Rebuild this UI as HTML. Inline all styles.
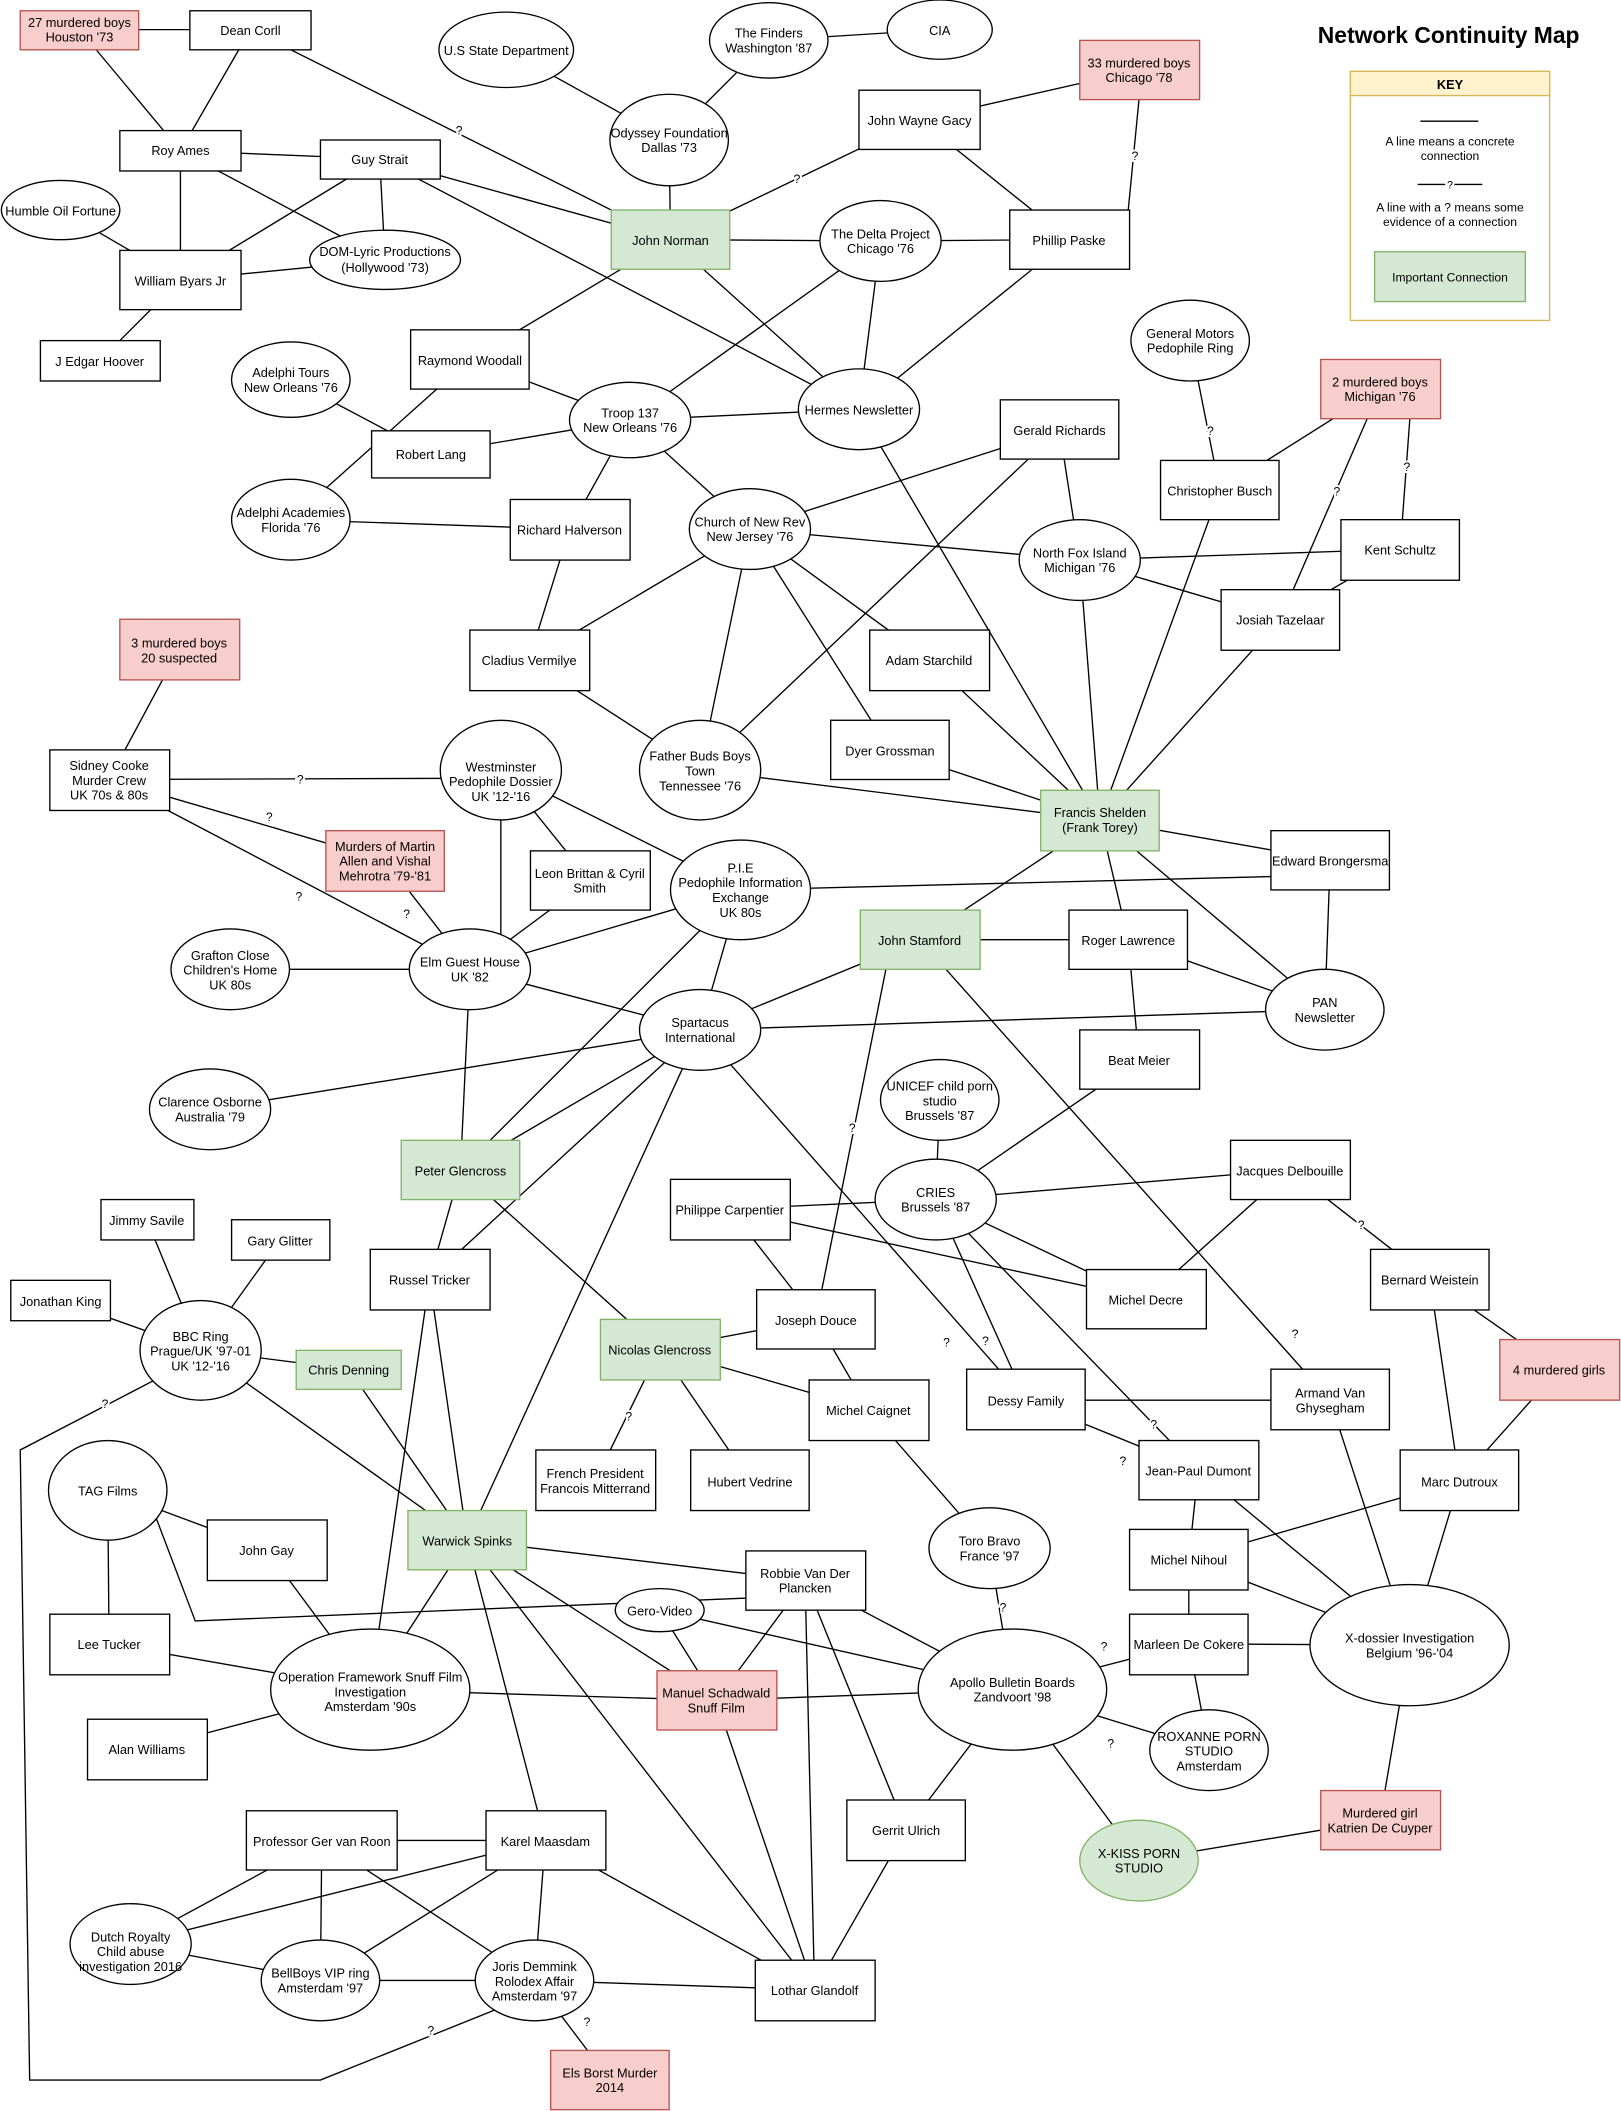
<!DOCTYPE html>
<html><head><meta charset="utf-8"><style>
html,body{margin:0;padding:0;background:#fff}
svg{display:block}
text{font-family:"Liberation Sans",Arial,sans-serif;font-size:9.5px;fill:#000}
.e line,.e polyline{stroke:#000;stroke-width:1;fill:none}
.n rect,.n ellipse{fill:#fff;stroke:#000;stroke-width:1}
.n .g{fill:#d5e8d4;stroke:#82b366}
.n .p{fill:#f8cecc;stroke:#b85450}
.q{font-size:9px;stroke:#fff;stroke-width:3;paint-order:stroke;text-anchor:middle}
.t{text-anchor:middle}
</style></head><body>
<svg width="1621" height="2111" viewBox="0 0 1204 1568" xmlns="http://www.w3.org/2000/svg">
<g class="e">
<line x1="59" y1="22" x2="186" y2="22"/><line x1="59" y1="22" x2="134" y2="112"/><line x1="186" y1="22" x2="134" y2="112"/>
<line x1="186" y1="22" x2="498" y2="178"/><line x1="134" y1="112" x2="282" y2="118"/><line x1="134" y1="112" x2="134" y2="208"/>
<line x1="134" y1="112" x2="286" y2="193"/><line x1="282" y1="118" x2="134" y2="208"/><line x1="282" y1="118" x2="286" y2="193"/>
<line x1="282" y1="118" x2="498" y2="178"/><line x1="282" y1="118" x2="638" y2="304"/><line x1="45" y1="156" x2="134" y2="208"/>
<line x1="134" y1="208" x2="286" y2="193"/><line x1="134" y1="208" x2="74" y2="268"/><line x1="376" y1="37" x2="497" y2="104"/>
<line x1="571" y1="30" x2="497" y2="104"/><line x1="571" y1="30" x2="698" y2="22"/><line x1="497" y1="104" x2="498" y2="178"/>
<line x1="498" y1="178" x2="683" y2="89"/><line x1="498" y1="178" x2="654" y2="179"/><line x1="498" y1="178" x2="349" y2="267"/>
<line x1="498" y1="178" x2="638" y2="304"/><line x1="683" y1="89" x2="846" y2="52"/><line x1="683" y1="89" x2="794" y2="178"/>
<line x1="846" y1="74" x2="838" y2="156"/><line x1="654" y1="179" x2="794" y2="178"/><line x1="654" y1="179" x2="638" y2="304"/>
<line x1="654" y1="179" x2="468" y2="312"/><line x1="794" y1="178" x2="638" y2="304"/><line x1="349" y1="267" x2="216" y2="386"/>
<line x1="349" y1="267" x2="468" y2="312"/><line x1="216" y1="282" x2="320" y2="337"/><line x1="468" y1="312" x2="320" y2="337"/>
<line x1="468" y1="312" x2="638" y2="304"/><line x1="468" y1="312" x2="423" y2="393"/><line x1="468" y1="312" x2="557" y2="393"/>
<line x1="216" y1="386" x2="423" y2="393"/><line x1="638" y1="304" x2="817" y2="609"/><line x1="884" y1="253" x2="906" y2="364"/>
<line x1="1025" y1="289" x2="906" y2="364"/><line x1="1025" y1="289" x2="951" y2="460"/><line x1="1048" y1="300" x2="1040" y2="408"/>
<line x1="787" y1="319" x2="802" y2="416"/><line x1="787" y1="319" x2="557" y2="393"/><line x1="787" y1="319" x2="520" y2="572"/>
<line x1="906" y1="364" x2="817" y2="609"/><line x1="557" y1="393" x2="802" y2="416"/><line x1="557" y1="393" x2="393" y2="490"/>
<line x1="557" y1="393" x2="520" y2="572"/><line x1="557" y1="393" x2="690" y2="490"/><line x1="557" y1="393" x2="661" y2="557"/>
<line x1="802" y1="416" x2="1040" y2="408"/><line x1="802" y1="416" x2="951" y2="460"/><line x1="802" y1="416" x2="817" y2="609"/>
<line x1="1040" y1="408" x2="951" y2="460"/><line x1="951" y1="460" x2="817" y2="609"/><line x1="423" y1="393" x2="393" y2="490"/>
<line x1="393" y1="490" x2="520" y2="572"/><line x1="690" y1="490" x2="817" y2="609"/><line x1="661" y1="557" x2="817" y2="609"/>
<line x1="520" y1="572" x2="817" y2="609"/><line x1="133" y1="482" x2="81" y2="579"/><line x1="81" y1="579" x2="372" y2="578"/>
<line x1="81" y1="579" x2="286" y2="639"/><line x1="81" y1="579" x2="349" y2="720"/><line x1="372" y1="572" x2="372" y2="720"/>
<line x1="372" y1="572" x2="438" y2="654"/><line x1="372" y1="572" x2="550" y2="661"/><line x1="286" y1="639" x2="349" y2="720"/>
<line x1="438" y1="654" x2="349" y2="720"/><line x1="550" y1="661" x2="349" y2="720"/><line x1="550" y1="661" x2="988" y2="650"/>
<line x1="550" y1="661" x2="520" y2="765"/><line x1="550" y1="661" x2="342" y2="869"/><line x1="817" y1="609" x2="988" y2="639"/>
<line x1="817" y1="609" x2="683" y2="698"/><line x1="817" y1="609" x2="838" y2="698"/><line x1="817" y1="609" x2="984" y2="750"/>
<line x1="988" y1="639" x2="984" y2="750"/><line x1="171" y1="720" x2="349" y2="720"/><line x1="349" y1="720" x2="520" y2="765"/>
<line x1="349" y1="720" x2="342" y2="869"/><line x1="683" y1="698" x2="838" y2="698"/><line x1="683" y1="698" x2="520" y2="765"/>
<line x1="660" y1="710" x2="606" y2="980"/><line x1="683" y1="698" x2="988" y2="1040"/><line x1="838" y1="698" x2="984" y2="750"/>
<line x1="838" y1="698" x2="846" y2="787"/><line x1="520" y1="765" x2="984" y2="750"/><line x1="520" y1="765" x2="156" y2="824"/>
<line x1="520" y1="765" x2="342" y2="869"/><line x1="520" y1="765" x2="319" y2="950"/><line x1="520" y1="765" x2="347" y2="1144"/>
<line x1="520" y1="765" x2="762" y2="1040"/><line x1="846" y1="787" x2="695" y2="891"/><line x1="698" y1="817" x2="695" y2="891"/>
<line x1="958" y1="869" x2="695" y2="891"/><line x1="958" y1="869" x2="851" y2="965"/><line x1="958" y1="869" x2="1062" y2="950"/>
<line x1="542" y1="898" x2="695" y2="891"/><line x1="542" y1="898" x2="851" y2="965"/><line x1="542" y1="898" x2="606" y2="980"/>
<line x1="695" y1="891" x2="851" y2="965"/><line x1="695" y1="891" x2="762" y2="1040"/><line x1="695" y1="891" x2="890" y2="1092"/>
<line x1="342" y1="869" x2="319" y2="950"/><line x1="342" y1="869" x2="490" y2="1002"/><line x1="109" y1="906" x2="149" y2="1003"/>
<line x1="208" y1="921" x2="149" y2="1003"/><line x1="45" y1="966" x2="149" y2="1003"/><line x1="149" y1="1003" x2="259" y2="1017"/>
<line x1="149" y1="1003" x2="347" y2="1144"/><line x1="319" y1="950" x2="347" y2="1144"/><line x1="319" y1="950" x2="275" y2="1255"/>
<line x1="1062" y1="950" x2="1158" y2="1017"/><line x1="1062" y1="950" x2="1084" y2="1100"/><line x1="606" y1="980" x2="490" y2="1002"/>
<line x1="606" y1="980" x2="645" y2="1047"/><line x1="259" y1="1017" x2="347" y2="1144"/><line x1="490" y1="1002" x2="442" y2="1100"/>
<line x1="490" y1="1002" x2="557" y2="1100"/><line x1="490" y1="1002" x2="645" y2="1047"/><line x1="1158" y1="1017" x2="1084" y2="1100"/>
<line x1="762" y1="1040" x2="988" y2="1040"/><line x1="762" y1="1040" x2="890" y2="1092"/><line x1="988" y1="1040" x2="1047" y2="1222"/>
<line x1="645" y1="1047" x2="735" y2="1150"/><line x1="890" y1="1092" x2="883" y2="1158"/><line x1="890" y1="1092" x2="1047" y2="1222"/>
<line x1="1084" y1="1100" x2="883" y2="1158"/><line x1="1084" y1="1100" x2="1047" y2="1222"/><line x1="80" y1="1107" x2="198" y2="1151"/>
<line x1="80" y1="1107" x2="81" y2="1221"/><polyline points="115,1125 145,1204 555,1187"/><line x1="198" y1="1151" x2="275" y2="1255"/>
<line x1="347" y1="1144" x2="275" y2="1255"/><line x1="347" y1="1144" x2="598" y2="1174"/><line x1="347" y1="1144" x2="532" y2="1263"/>
<line x1="347" y1="1144" x2="405" y2="1367"/><line x1="347" y1="1144" x2="605" y2="1478"/><line x1="735" y1="1150" x2="752" y2="1255"/>
<line x1="883" y1="1158" x2="883" y2="1221"/><line x1="883" y1="1158" x2="1047" y2="1222"/><line x1="598" y1="1174" x2="532" y2="1263"/>
<line x1="598" y1="1174" x2="752" y2="1255"/><line x1="598" y1="1174" x2="605" y2="1478"/><line x1="598" y1="1174" x2="673" y2="1359"/>
<line x1="490" y1="1196" x2="532" y2="1263"/><line x1="490" y1="1196" x2="752" y2="1255"/><line x1="81" y1="1221" x2="275" y2="1255"/>
<line x1="275" y1="1255" x2="532" y2="1263"/><line x1="883" y1="1221" x2="752" y2="1255"/><line x1="883" y1="1221" x2="1047" y2="1222"/>
<line x1="883" y1="1221" x2="898" y2="1300"/><line x1="1047" y1="1222" x2="1025" y2="1352"/><line x1="532" y1="1263" x2="752" y2="1255"/>
<line x1="532" y1="1263" x2="605" y2="1478"/><line x1="752" y1="1255" x2="673" y2="1359"/><line x1="752" y1="1255" x2="846" y2="1382"/>
<line x1="752" y1="1255" x2="898" y2="1300"/><line x1="109" y1="1299" x2="275" y2="1255"/><line x1="673" y1="1359" x2="605" y2="1478"/>
<line x1="239" y1="1367" x2="405" y2="1367"/><line x1="239" y1="1367" x2="97" y2="1444"/><line x1="239" y1="1367" x2="238" y2="1471"/>
<line x1="239" y1="1367" x2="397" y2="1471"/><line x1="405" y1="1367" x2="97" y2="1444"/><line x1="405" y1="1367" x2="238" y2="1471"/>
<line x1="405" y1="1367" x2="397" y2="1471"/><line x1="405" y1="1367" x2="605" y2="1478"/><line x1="846" y1="1382" x2="1025" y2="1352"/>
<line x1="97" y1="1444" x2="238" y2="1471"/><line x1="238" y1="1471" x2="397" y2="1471"/><line x1="397" y1="1471" x2="605" y2="1478"/>
<line x1="397" y1="1471" x2="453" y2="1545"/>
<polyline points="115,1025 15,1077 22,1545 238,1545 370,1492"/>
</g>
<g>
<text class="q" x="341" y="100">?</text><text class="q" x="592" y="136">?</text><text class="q" x="843" y="119">?</text>
<text class="q" x="899" y="323">?</text><text class="q" x="993" y="368">?</text><text class="q" x="1045" y="350">?</text>
<text class="q" x="223" y="582">?</text><text class="q" x="200" y="610">?</text><text class="q" x="222" y="669">?</text>
<text class="q" x="302" y="682">?</text><text class="q" x="633" y="841">?</text><text class="q" x="962" y="994">?</text>
<text class="q" x="703" y="1000">?</text><text class="q" x="732" y="999">?</text><text class="q" x="857" y="1061">?</text>
<text class="q" x="1011" y="913">?</text><text class="q" x="78" y="1046">?</text><text class="q" x="467" y="1055">?</text>
<text class="q" x="834" y="1088">?</text><text class="q" x="745" y="1197">?</text><text class="q" x="820" y="1226">?</text>
<text class="q" x="825" y="1298">?</text><text class="q" x="320" y="1511">?</text><text class="q" x="436" y="1505">?</text>
</g>
<g class="n">
<rect class="p" x="15" y="8" width="88" height="29"/><text class="t" x="59" y="20">27 murdered boys</text><text class="t" x="59" y="31">Houston '73</text>
<rect x="141" y="8" width="90" height="29"/><text class="t" x="186" y="26">Dean Corll</text>
<rect x="89" y="97" width="90" height="30"/><text class="t" x="134" y="115">Roy Ames</text>
<rect x="238" y="104" width="89" height="29"/><text class="t" x="282" y="122">Guy Strait</text>
<ellipse cx="45" cy="156" rx="44" ry="22"/><text class="t" x="45" y="160">Humble Oil Fortune</text>
<rect x="89" y="186" width="90" height="44"/><text class="t" x="134" y="212">William Byars Jr</text>
<ellipse cx="286" cy="193" rx="56" ry="22"/><text class="t" x="286" y="190">DOM-Lyric Productions</text><text class="t" x="286" y="202">(Hollywood '73)</text>
<rect x="30" y="253" width="89" height="30"/><text class="t" x="74" y="272">J Edgar Hoover</text>
<ellipse cx="376" cy="37" rx="50" ry="28"/><text class="t" x="376" y="41">U.S State Department</text>
<ellipse cx="571" cy="30" rx="44" ry="28"/><text class="t" x="571" y="28">The Finders</text><text class="t" x="571" y="39">Washington '87</text>
<ellipse cx="698" cy="22" rx="39" ry="22"/><text class="t" x="698" y="26">CIA</text>
<ellipse cx="497" cy="104" rx="44" ry="34"/><text class="t" x="497" y="102">Odyssey Foundation</text><text class="t" x="497" y="113">Dallas '73</text>
<rect class="g" x="454" y="156" width="88" height="44"/><text class="t" x="498" y="182">John Norman</text>
<rect x="638" y="67" width="90" height="44"/><text class="t" x="683" y="93">John Wayne Gacy</text>
<rect class="p" x="802" y="30" width="89" height="44"/><text class="t" x="846" y="50">33 murdered boys</text><text class="t" x="846" y="61">Chicago '78</text>
<ellipse cx="654" cy="179" rx="45" ry="30"/><text class="t" x="654" y="177">The Delta Project</text><text class="t" x="654" y="188">Chicago '76</text>
<rect x="750" y="156" width="89" height="44"/><text class="t" x="794" y="182">Phillip Paske</text>
<rect x="305" y="245" width="88" height="44"/><text class="t" x="349" y="271">Raymond Woodall</text>
<ellipse cx="216" cy="282" rx="44" ry="28"/><text class="t" x="216" y="280">Adelphi Tours</text><text class="t" x="216" y="291">New Orleans '76</text>
<ellipse cx="468" cy="312" rx="45" ry="28"/><text class="t" x="468" y="310">Troop 137</text><text class="t" x="468" y="321">New Orleans '76</text>
<ellipse cx="638" cy="304" rx="45" ry="30"/><text class="t" x="638" y="308">Hermes Newsletter</text>
<rect x="276" y="320" width="88" height="35"/><text class="t" x="320" y="341">Robert Lang</text>
<ellipse cx="884" cy="253" rx="44" ry="30"/><text class="t" x="884" y="251">General Motors</text><text class="t" x="884" y="262">Pedophile Ring</text>
<rect class="p" x="981" y="267" width="89" height="44"/><text class="t" x="1025" y="287">2 murdered boys</text><text class="t" x="1025" y="298">Michigan '76</text>
<rect x="743" y="297" width="88" height="44"/><text class="t" x="787" y="323">Gerald Richards</text>
<rect x="862" y="342" width="88" height="44"/><text class="t" x="906" y="368">Christopher Busch</text>
<ellipse cx="216" cy="386" rx="44" ry="30"/><text class="t" x="216" y="384">Adelphi Academies</text><text class="t" x="216" y="395">Florida '76</text>
<rect x="379" y="371" width="89" height="45"/><text class="t" x="423" y="397">Richard Halverson</text>
<ellipse cx="557" cy="393" rx="45" ry="30"/><text class="t" x="557" y="391">Church of New Rev</text><text class="t" x="557" y="402">New Jersey '76</text>
<ellipse cx="802" cy="416" rx="45" ry="30"/><text class="t" x="802" y="414">North Fox Island</text><text class="t" x="802" y="425">Michigan '76</text>
<rect x="996" y="386" width="88" height="45"/><text class="t" x="1040" y="412">Kent Schultz</text>
<rect x="907" y="438" width="88" height="45"/><text class="t" x="951" y="464">Josiah Tazelaar</text>
<rect x="349" y="468" width="89" height="45"/><text class="t" x="393" y="494">Cladius Vermilye</text>
<rect x="646" y="468" width="89" height="45"/><text class="t" x="690" y="494">Adam Starchild</text>
<rect class="p" x="89" y="460" width="89" height="45"/><text class="t" x="133" y="481">3 murdered boys</text><text class="t" x="133" y="492">20 suspected</text>
<rect x="37" y="557" width="89" height="45"/><text class="t" x="81" y="572">Sidney Cooke</text><text class="t" x="81" y="583">Murder Crew</text><text class="t" x="81" y="594">UK 70s &amp; 80s</text>
<ellipse cx="372" cy="572" rx="45" ry="37"/><text class="t" x="372" y="573">Westminster</text><text class="t" x="372" y="584">Pedophile Dossier</text><text class="t" x="372" y="595">UK '12-'16</text>
<ellipse cx="520" cy="572" rx="45" ry="37"/><text class="t" x="520" y="565">Father Buds Boys</text><text class="t" x="520" y="576">Town</text><text class="t" x="520" y="587">Tennessee '76</text>
<rect x="617" y="535" width="88" height="44"/><text class="t" x="661" y="561">Dyer Grossman</text>
<rect class="g" x="773" y="587" width="88" height="45"/><text class="t" x="817" y="607">Francis Shelden</text><text class="t" x="817" y="618">(Frank Torey)</text>
<rect class="p" x="242" y="617" width="88" height="45"/><text class="t" x="286" y="632">Murders of Martin</text><text class="t" x="286" y="643">Allen and Vishal</text><text class="t" x="286" y="654">Mehrotra '79-'81</text>
<rect x="394" y="632" width="89" height="44"/><text class="t" x="438" y="652">Leon Brittan &amp; Cyril</text><text class="t" x="438" y="663">Smith</text>
<ellipse cx="550" cy="661" rx="52" ry="37"/><text class="t" x="550" y="648">P.I.E</text><text class="t" x="550" y="659">Pedophile Information</text><text class="t" x="550" y="670">Exchange</text><text class="t" x="550" y="681">UK 80s</text>
<rect x="944" y="617" width="88" height="44"/><text class="t" x="988" y="643">Edward Brongersma</text>
<ellipse cx="171" cy="720" rx="44" ry="30"/><text class="t" x="171" y="713">Grafton Close</text><text class="t" x="171" y="724">Children's Home</text><text class="t" x="171" y="735">UK 80s</text>
<ellipse cx="349" cy="720" rx="45" ry="30"/><text class="t" x="349" y="718">Elm Guest House</text><text class="t" x="349" y="729">UK '82</text>
<rect class="g" x="639" y="676" width="89" height="44"/><text class="t" x="683" y="702">John Stamford</text>
<rect x="794" y="676" width="88" height="44"/><text class="t" x="838" y="702">Roger Lawrence</text>
<ellipse cx="984" cy="750" rx="44" ry="30"/><text class="t" x="984" y="748">PAN</text><text class="t" x="984" y="759">Newsletter</text>
<ellipse cx="520" cy="765" rx="45" ry="30"/><text class="t" x="520" y="763">Spartacus</text><text class="t" x="520" y="774">International</text>
<ellipse cx="156" cy="824" rx="45" ry="30"/><text class="t" x="156" y="822">Clarence Osborne</text><text class="t" x="156" y="833">Australia '79</text>
<rect x="802" y="765" width="89" height="44"/><text class="t" x="846" y="791">Beat Meier</text>
<ellipse cx="698" cy="817" rx="44" ry="30"/><text class="t" x="698" y="810">UNICEF child porn</text><text class="t" x="698" y="821">studio</text><text class="t" x="698" y="832">Brussels '87</text>
<rect class="g" x="298" y="847" width="88" height="44"/><text class="t" x="342" y="873">Peter Glencross</text>
<rect x="914" y="847" width="89" height="44"/><text class="t" x="958" y="873">Jacques Delbouille</text>
<rect x="498" y="876" width="89" height="45"/><text class="t" x="542" y="902">Philippe Carpentier</text>
<ellipse cx="695" cy="891" rx="45" ry="30"/><text class="t" x="695" y="889">CRIES</text><text class="t" x="695" y="900">Brussels '87</text>
<rect x="75" y="891" width="69" height="30"/><text class="t" x="109" y="910">Jimmy Savile</text>
<rect x="172" y="906" width="73" height="30"/><text class="t" x="208" y="925">Gary Glitter</text>
<rect x="8" y="951" width="74" height="30"/><text class="t" x="45" y="970">Jonathan King</text>
<ellipse cx="149" cy="1003" rx="45" ry="37"/><text class="t" x="149" y="996">BBC Ring</text><text class="t" x="149" y="1007">Prague/UK '97-01</text><text class="t" x="149" y="1018">UK '12-'16</text>
<rect x="275" y="928" width="89" height="45"/><text class="t" x="319" y="954">Russel Tricker</text>
<rect x="1018" y="928" width="88" height="45"/><text class="t" x="1062" y="954">Bernard Weistein</text>
<rect x="562" y="958" width="88" height="44"/><text class="t" x="606" y="984">Joseph Douce</text>
<rect x="807" y="943" width="89" height="44"/><text class="t" x="851" y="969">Michel Decre</text>
<rect class="g" x="220" y="1003" width="78" height="29"/><text class="t" x="259" y="1021">Chris Denning</text>
<rect class="g" x="446" y="980" width="89" height="45"/><text class="t" x="490" y="1006">Nicolas Glencross</text>
<rect class="p" x="1114" y="995" width="89" height="45"/><text class="t" x="1158" y="1021">4 murdered girls</text>
<rect x="718" y="1017" width="88" height="45"/><text class="t" x="762" y="1044">Dessy Family</text>
<rect x="944" y="1017" width="88" height="45"/><text class="t" x="988" y="1038">Armand Van</text><text class="t" x="988" y="1049">Ghysegham</text>
<rect x="601" y="1025" width="89" height="45"/><text class="t" x="645" y="1051">Michel Caignet</text>
<rect x="398" y="1077" width="89" height="45"/><text class="t" x="442" y="1098">French President</text><text class="t" x="442" y="1109">Francois Mitterrand</text>
<rect x="513" y="1077" width="88" height="45"/><text class="t" x="557" y="1104">Hubert Vedrine</text>
<rect x="846" y="1070" width="89" height="44"/><text class="t" x="890" y="1096">Jean-Paul Dumont</text>
<rect x="1040" y="1077" width="88" height="45"/><text class="t" x="1084" y="1104">Marc Dutroux</text>
<ellipse cx="80" cy="1107" rx="44" ry="37"/><text class="t" x="80" y="1111">TAG Films</text>
<rect x="154" y="1129" width="89" height="45"/><text class="t" x="198" y="1155">John Gay</text>
<rect class="g" x="303" y="1122" width="88" height="44"/><text class="t" x="347" y="1148">Warwick Spinks</text>
<ellipse cx="735" cy="1150" rx="45" ry="30"/><text class="t" x="735" y="1148">Toro Bravo</text><text class="t" x="735" y="1159">France '97</text>
<rect x="839" y="1136" width="88" height="45"/><text class="t" x="883" y="1162">Michel Nihoul</text>
<rect x="554" y="1152" width="89" height="44"/><text class="t" x="598" y="1172">Robbie Van Der</text><text class="t" x="598" y="1183">Plancken</text>
<ellipse cx="490" cy="1196" rx="33" ry="16"/><text class="t" x="490" y="1200">Gero-Video</text>
<rect x="37" y="1199" width="89" height="45"/><text class="t" x="81" y="1225">Lee Tucker</text>
<ellipse cx="275" cy="1255" rx="74" ry="45"/><text class="t" x="275" y="1249">Operation Framework Snuff Film</text><text class="t" x="275" y="1260">Investigation</text><text class="t" x="275" y="1271">Amsterdam '90s</text>
<rect x="839" y="1199" width="88" height="45"/><text class="t" x="883" y="1225">Marleen De Cokere</text>
<ellipse cx="1047" cy="1222" rx="74" ry="45"/><text class="t" x="1047" y="1220">X-dossier Investigation</text><text class="t" x="1047" y="1231">Belgium '96-'04</text>
<rect class="p" x="488" y="1241" width="89" height="44"/><text class="t" x="532" y="1261">Manuel Schadwald</text><text class="t" x="532" y="1272">Snuff Film</text>
<ellipse cx="752" cy="1255" rx="70" ry="45"/><text class="t" x="752" y="1253">Apollo Bulletin Boards</text><text class="t" x="752" y="1264">Zandvoort '98</text>
<rect x="65" y="1277" width="89" height="45"/><text class="t" x="109" y="1303">Alan Williams</text>
<ellipse cx="898" cy="1300" rx="44" ry="30"/><text class="t" x="898" y="1293">ROXANNE PORN</text><text class="t" x="898" y="1304">STUDIO</text><text class="t" x="898" y="1315">Amsterdam</text>
<rect x="629" y="1337" width="88" height="45"/><text class="t" x="673" y="1363">Gerrit Ulrich</text>
<rect x="183" y="1345" width="112" height="44"/><text class="t" x="239" y="1371">Professor Ger van Roon</text>
<rect x="361" y="1345" width="89" height="44"/><text class="t" x="405" y="1371">Karel Maasdam</text>
<ellipse class="g" cx="846" cy="1382" rx="44" ry="30"/><text class="t" x="846" y="1380">X-KISS PORN</text><text class="t" x="846" y="1391">STUDIO</text>
<rect class="p" x="981" y="1330" width="89" height="44"/><text class="t" x="1025" y="1350">Murdered girl</text><text class="t" x="1025" y="1361">Katrien De Cuyper</text>
<ellipse cx="97" cy="1444" rx="45" ry="30"/><text class="t" x="97" y="1442">Dutch Royalty</text><text class="t" x="97" y="1453">Child abuse</text><text class="t" x="97" y="1464">investigation 2016</text>
<ellipse cx="238" cy="1471" rx="44" ry="30"/><text class="t" x="238" y="1469">BellBoys VIP ring</text><text class="t" x="238" y="1480">Amsterdam '97</text>
<ellipse cx="397" cy="1471" rx="44" ry="30"/><text class="t" x="397" y="1464">Joris Demmink</text><text class="t" x="397" y="1475">Rolodex Affair</text><text class="t" x="397" y="1486">Amsterdam '97</text>
<rect x="561" y="1456" width="89" height="45"/><text class="t" x="605" y="1482">Lothar Glandolf</text>
<rect class="p" x="409" y="1523" width="88" height="44"/><text class="t" x="453" y="1543">Els Borst Murder</text><text class="t" x="453" y="1554">2014</text>
</g>
<text x="1076" y="32" style="font-size:17px;font-weight:bold" text-anchor="middle">Network Continuity Map</text>
<rect x="1003" y="53" width="148" height="185" fill="#fff" stroke="#d6b656"/>
<rect x="1003" y="53" width="148" height="18" fill="#fff2cc" stroke="#d6b656"/>
<text class="t" x="1077" y="66" style="font-weight:bold">KEY</text>
<line x1="1055" y1="90" x2="1098" y2="90" stroke="#000"/>
<text class="t" x="1077" y="108" style="font-size:9px">A line means a concrete</text><text class="t" x="1077" y="119" style="font-size:9px">connection</text>
<line x1="1053" y1="137" x2="1101" y2="137" stroke="#000"/><text class="q" x="1077" y="140" style="font-size:8px">?</text>
<text class="t" x="1077" y="157" style="font-size:9px">A line with a ? means some</text><text class="t" x="1077" y="168" style="font-size:9px">evidence of a connection</text>
<rect x="1021" y="187" width="112" height="37" fill="#d5e8d4" stroke="#82b366"/><text class="t" x="1077" y="209" style="font-size:9px">Important Connection</text>
</svg>
</body></html>
